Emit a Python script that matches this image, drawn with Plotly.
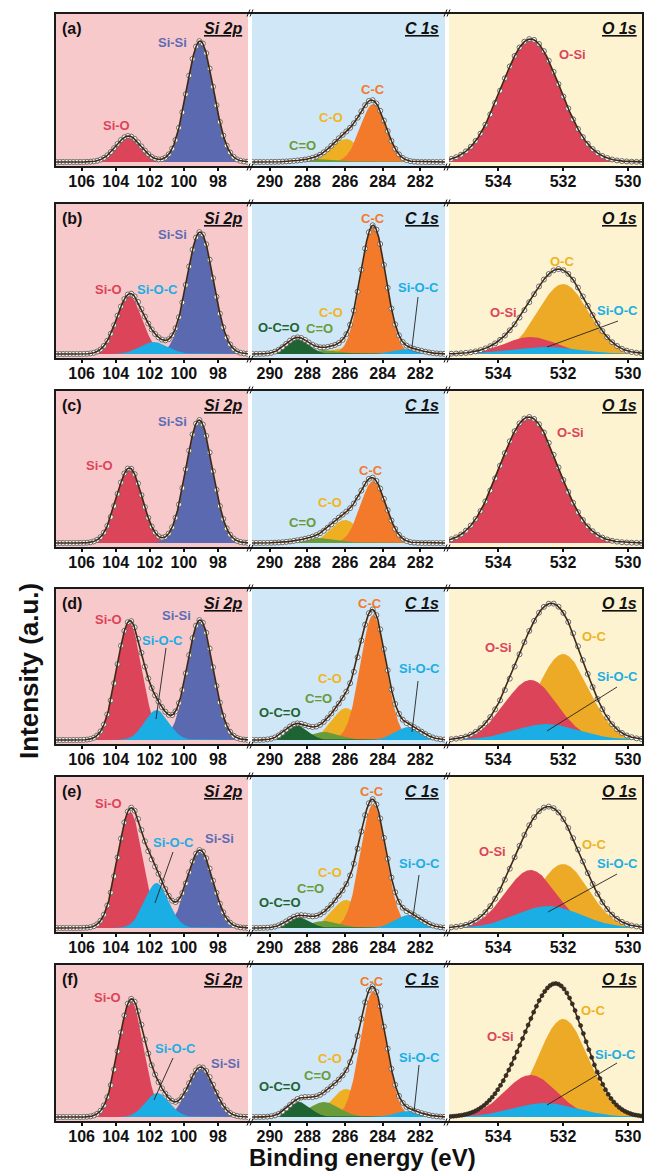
import numpy as np
import plotly.graph_objects as go

W, H = 645, 1174

PANELS = ["(a)", "(b)", "(c)", "(d)", "(e)", "(f)"]
REGIONS = ["Si 2p", "C 1s", "O 1s"]

# ---- Si 2p fitted components: peak position (eV), peak height, Gaussian sigma (eV)
SI_O_POS = [103.25, 103.2, 103.2, 103.2, 103.15, 103.1]
SI_O_AMP = [26, 58, 75, 117, 116, 116]
SI_O_SIG = [0.75, 0.75, 0.75, 0.74, 0.74, 0.74]

SI_SI_POS = [99.05, 99.05, 99.1, 99.05, 99.05, 99.0]
SI_SI_AMP = [121, 122, 123, 120, 78, 50]
SI_SI_SIG = [0.78, 0.78, 0.78, 0.76, 0.76, 0.76]

SI_SIOC_POS = [101.7, 101.75, 101.7, 101.6, 101.6, 101.55]
SI_SIOC_AMP = [0, 12, 0, 30, 45, 24]
SI_SIOC_SIG = [0.8, 0.8, 0.8, 0.7, 0.7, 0.7]

# ---- C 1s fitted components
CC_POS = [284.5, 284.5, 284.5, 284.5, 284.5, 284.5]
CC_AMP = [58, 128, 62, 125, 124, 126]
CC_SIG = [0.68, 0.66, 0.68, 0.68, 0.68, 0.68]

CO_POS = [285.95, 286.0, 286.0, 285.95, 285.95, 285.95]
CO_AMP = [23, 6, 23, 32, 28, 28]
CO_SIG = [0.75, 0.7, 0.75, 0.75, 0.75, 0.75]

C2O_POS = [287.3, 287.0, 287.4, 287.1, 287.1, 287.1]
C2O_AMP = [3, 4, 5, 8, 7, 15]
C2O_SIG = [1.0, 0.8, 1.0, 0.8, 0.8, 0.8]

OC2O_POS = [288.6, 288.55, 288.6, 288.6, 288.5, 288.45]
OC2O_AMP = [0, 16, 0, 15, 11, 15]
OC2O_SIG = [0.6, 0.6, 0.6, 0.6, 0.6, 0.6]

C_SIOC_POS = [282.6, 282.6, 282.6, 282.6, 282.6, 282.6]
C_SIOC_AMP = [0, 5, 0, 13, 13, 6]
C_SIOC_SIG = [0.7, 0.7, 0.7, 0.7, 0.7, 0.7]

# ---- O 1s fitted components
OSI_POS = [533.0, 533.0, 533.05, 533.0, 533.0, 533.0]
OSI_AMP = [123, 17, 126, 60, 58, 42]
OSI_SIG = [0.9, 0.8, 0.9, 0.8, 0.78, 0.8]

OC_POS = [532.0, 532.0, 532.0, 532.0, 532.0, 532.0]
OC_AMP = [0, 70, 0, 86, 64, 98]
OC_SIG = [0.78, 0.78, 0.78, 0.78, 0.78, 0.78]

O_SIOC_POS = [532.5, 532.5, 532.5, 532.5, 532.45, 532.55]
O_SIOC_AMP = [0, 7, 0, 16, 22, 14]
O_SIOC_SIG = [1.0, 1.0, 1.0, 1.0, 1.0, 1.0]

# ---- axis ticks
SI_TICKS = [106, 104, 102, 100, 98]
C_TICKS = [290, 288, 286, 284, 282]
O_TICKS = [534, 532, 530]

# ---- colours
RED = "#DB4459"
BLUE = "#5B6AB0"
CYAN = "#1AAEE4"
ORANGE = "#F47A2B"
YELLOW = "#EEB022"
OLIVE = "#6A9B3B"
DKGREEN = "#1E6332"
GOLD = "#EDAA26"
BG = ["#F8C9CB", "#CFE7F6", "#FDF3D1"]
LABEL_COLOR = {
    "Si-O": RED, "Si-Si": "#5D6CB5", "Si-O-C": CYAN, "C-C": ORANGE,
    "C-O": "#F2B51F", "C=O": OLIVE, "O-C=O": DKGREEN, "O-Si": RED, "O-C": "#EDB320",
}

# draw order inside each region (later = on top)
COMPONENTS = [
    [("Si-O", SI_O_POS, SI_O_AMP, SI_O_SIG, RED),
     ("Si-Si", SI_SI_POS, SI_SI_AMP, SI_SI_SIG, BLUE),
     ("Si-O-C", SI_SIOC_POS, SI_SIOC_AMP, SI_SIOC_SIG, CYAN)],
    [("C-O", CO_POS, CO_AMP, CO_SIG, YELLOW),
     ("C-C", CC_POS, CC_AMP, CC_SIG, ORANGE),
     ("C=O", C2O_POS, C2O_AMP, C2O_SIG, OLIVE),
     ("O-C=O", OC2O_POS, OC2O_AMP, OC2O_SIG, DKGREEN),
     ("Si-O-C", C_SIOC_POS, C_SIOC_AMP, C_SIOC_SIG, CYAN)],
    [("O-C", OC_POS, OC_AMP, OC_SIG, GOLD),
     ("O-Si", OSI_POS, OSI_AMP, OSI_SIG, RED),
     ("Si-O-C", O_SIOC_POS, O_SIOC_AMP, O_SIOC_SIG, CYAN)],
]
TICKS = [SI_TICKS, C_TICKS, O_TICKS]

# ---- page geometry (pixels)
ROW_TOP = [13, 203, 390, 588, 776, 964]
ROW_BOT = [167, 359, 548, 745, 933, 1122]
COL_X = [(55, 248), (252, 445), (449, 643)]
X_RANGE = [(107.56, 96.24), (290.95, 280.68), (535.51, 529.54)]
MARKER_STEP = [0.2, 0.2, 0.15]
BASE = 5  # gap between spectrum baseline and frame bottom, px

# peak labels: (text, x px, y px)
LABELS = [
    [("Si-O", 116, 126), ("Si-Si", 172, 43), ("C=O", 302, 145), ("C-O", 331, 117),
     ("C-C", 373, 90), ("O-Si", 572, 55)],
    [("Si-O", 108, 290), ("Si-O-C", 157, 289), ("Si-Si", 172, 234), ("O-C=O", 279, 327),
     ("C=O", 319, 329), ("C-O", 331, 313), ("C-C", 373, 218), ("Si-O-C", 418, 287),
     ("O-Si", 503, 313), ("O-C", 562, 261), ("Si-O-C", 617, 310)],
    [("Si-O", 99, 466), ("Si-Si", 172, 421), ("C=O", 302, 522), ("C-O", 330, 503),
     ("C-C", 371, 470), ("O-Si", 570, 432)],
    [("Si-O", 108, 619), ("Si-Si", 176, 615), ("Si-O-C", 162, 640), ("O-C=O", 280, 712),
     ("C=O", 318, 698), ("C-O", 330, 678), ("C-C", 370, 603), ("Si-O-C", 419, 668),
     ("O-Si", 498, 647), ("O-C", 594, 636), ("Si-O-C", 617, 676)],
    [("Si-O", 108, 803), ("Si-O-C", 173, 842), ("Si-Si", 219, 839), ("O-C=O", 280, 902),
     ("C=O", 310, 888), ("C-O", 330, 872), ("C-C", 372, 791), ("Si-O-C", 419, 863),
     ("O-Si", 492, 851), ("O-C", 594, 845), ("Si-O-C", 617, 863)],
    [("Si-O", 107, 997), ("Si-O-C", 175, 1048), ("Si-Si", 225, 1063), ("O-C=O", 280, 1086),
     ("C=O", 317, 1075), ("C-O", 330, 1058), ("C-C", 372, 981), ("Si-O-C", 419, 1057),
     ("O-Si", 500, 1036), ("O-C", 593, 1010), ("Si-O-C", 615, 1054)],
]
# leader lines: (x0, y0, x1, y1) px
LEADERS = [
    [],
    [(418, 297, 412, 347), (618, 321, 547, 347)],
    [],
    [(166, 648, 156, 719), (418, 681, 412, 732), (617, 687, 547, 731)],
    [(173, 852, 155, 903), (419, 875, 413, 917), (617, 874, 548, 912)],
    [(173, 1058, 154, 1100), (419, 1065, 414, 1112), (617, 1063, 547, 1105)],
]


def px(x):
    return x / W


def py(y):
    return 1 - y / H


def gauss(e, pos, amp, sig):
    return amp * np.exp(-((e - pos) ** 2) / (2 * sig ** 2))


FONT = "Liberation Sans, Arial, sans-serif"
fig = go.Figure()
layout = {}
shapes = []
annotations = []

for r in range(6):
    top, bot = ROW_TOP[r], ROW_BOT[r]
    for c in range(3):
        n = r * 3 + c + 1
        xa = "xaxis" if n == 1 else f"xaxis{n}"
        ya = "yaxis" if n == 1 else f"yaxis{n}"
        xr = "x" if n == 1 else f"x{n}"
        yr = "y" if n == 1 else f"y{n}"
        x0, x1 = COL_X[c]
        lo, hi = sorted(X_RANGE[c])
        dense = (r == 5 and c == 2)

        e = np.linspace(lo, hi, 700)
        env = np.zeros_like(e)
        for name, pos, amp, sig, col in COMPONENTS[c]:
            if amp[r] <= 0:
                continue
            curve = gauss(e, pos[r], amp[r], sig[r])
            env += curve
            fig.add_trace(go.Scatter(
                x=e, y=curve, xaxis=xr, yaxis=yr, mode="lines",
                line=dict(width=0, color=col), fill="tozeroy", fillcolor=col,
                showlegend=False, hoverinfo="skip"))

        # measured points on the fitted envelope
        em = np.arange(lo + 0.05, hi, 0.085 if dense else MARKER_STEP[c])
        ym = np.zeros_like(em)
        for name, pos, amp, sig, col in COMPONENTS[c]:
            if amp[r] > 0:
                ym += gauss(em, pos[r], amp[r], sig[r])
        if dense:
            mk = dict(symbol="circle", size=4, color="#3a3a3a", line=dict(width=0.6, color="#111"))
        else:
            mk = dict(symbol="circle", size=5, color="white", line=dict(width=0.9, color="#5a5a5a"))
        fig.add_trace(go.Scatter(
            x=em, y=ym, xaxis=xr, yaxis=yr, mode="markers", marker=mk,
            showlegend=False, hoverinfo="skip"))
        fig.add_trace(go.Scatter(
            x=e, y=env, xaxis=xr, yaxis=yr, mode="lines",
            line=dict(width=1.6, color="#3f2914"), showlegend=False, hoverinfo="skip"))

        layout[xa] = dict(
            domain=[px(x0), px(x1)], range=list(X_RANGE[c]), anchor=yr,
            tickvals=TICKS[c], ticktext=[str(t) for t in TICKS[c]],
            ticks="outside", ticklen=3, tickwidth=1.5, tickcolor="#111",
            ticklabelstandoff=-3,
            showgrid=False, zeroline=False, showline=False,
            tickfont=dict(family=FONT, size=16, color="#111", weight="bold"),
        )
        layout[ya] = dict(
            domain=[py(bot), py(top)], range=[-BASE, (bot - top) - BASE],
            anchor=xr, visible=False, showgrid=False, zeroline=False,
        )

        # coloured background of each region
        shapes.append(dict(type="rect", xref="paper", yref="paper", layer="below",
                           x0=px(x0), x1=px(x1), y0=py(bot), y1=py(top),
                           fillcolor=BG[c], line=dict(width=0)))

        # region title
        annotations.append(dict(
            text=f"<b><i><u>{REGIONS[c]}</u></i></b>", xref="paper", yref="paper",
            x=px(x1 - 4), y=py(top + 15), xanchor="right", yanchor="middle",
            showarrow=False, font=dict(family=FONT, size=16, color="#111")))

    # frame around the row
    shapes.append(dict(type="rect", xref="paper", yref="paper", layer="above",
                       x0=px(COL_X[0][0]), x1=px(COL_X[2][1]), y0=py(bot), y1=py(top),
                       line=dict(width=2, color="#1a1a1a")))
    # axis-break marks
    for gx in (250, 447):
        for gy in (top, bot):
            for dx in (-1.5, 1.5):
                shapes.append(dict(type="line", xref="paper", yref="paper", layer="above",
                                   x0=px(gx + dx - 1.5), y0=py(gy + 3.5),
                                   x1=px(gx + dx + 1.5), y1=py(gy - 3.5),
                                   line=dict(width=1, color="#111")))

    annotations.append(dict(
        text=f"<b>{PANELS[r]}</b>", xref="paper", yref="paper",
        x=px(60), y=py(top + 15), xanchor="left", yanchor="middle",
        showarrow=False, font=dict(family=FONT, size=16, color="#111")))

    for text, lx, ly in LABELS[r]:
        annotations.append(dict(
            text=f"<b>{text}</b>", xref="paper", yref="paper",
            x=px(lx), y=py(ly), xanchor="center", yanchor="middle",
            showarrow=False, font=dict(family=FONT, size=13, color=LABEL_COLOR[text])))
    for lx0, ly0, lx1, ly1 in LEADERS[r]:
        shapes.append(dict(type="line", xref="paper", yref="paper", layer="above",
                           x0=px(lx0), y0=py(ly0), x1=px(lx1), y1=py(ly1),
                           line=dict(width=0.9, color="#222")))

# axis titles
annotations.append(dict(
    text="<b>Binding energy (eV)</b>", xref="paper", yref="paper",
    x=px(362), y=py(1157), xanchor="center", yanchor="middle", showarrow=False,
    font=dict(family=FONT, size=24, color="#111")))
annotations.append(dict(
    text="<b>Intensity (a.u.)</b>", xref="paper", yref="paper", textangle=-90,
    x=px(29), y=py(671), xanchor="center", yanchor="middle", showarrow=False,
    font=dict(family=FONT, size=26, color="#111")))

fig.update_layout(
    width=W, height=H, autosize=False,
    margin=dict(l=0, r=0, t=0, b=0, pad=0),
    paper_bgcolor="white", plot_bgcolor="rgba(0,0,0,0)",
    showlegend=False, shapes=shapes, annotations=annotations, **layout,
)

fig.write_html("out.html")
